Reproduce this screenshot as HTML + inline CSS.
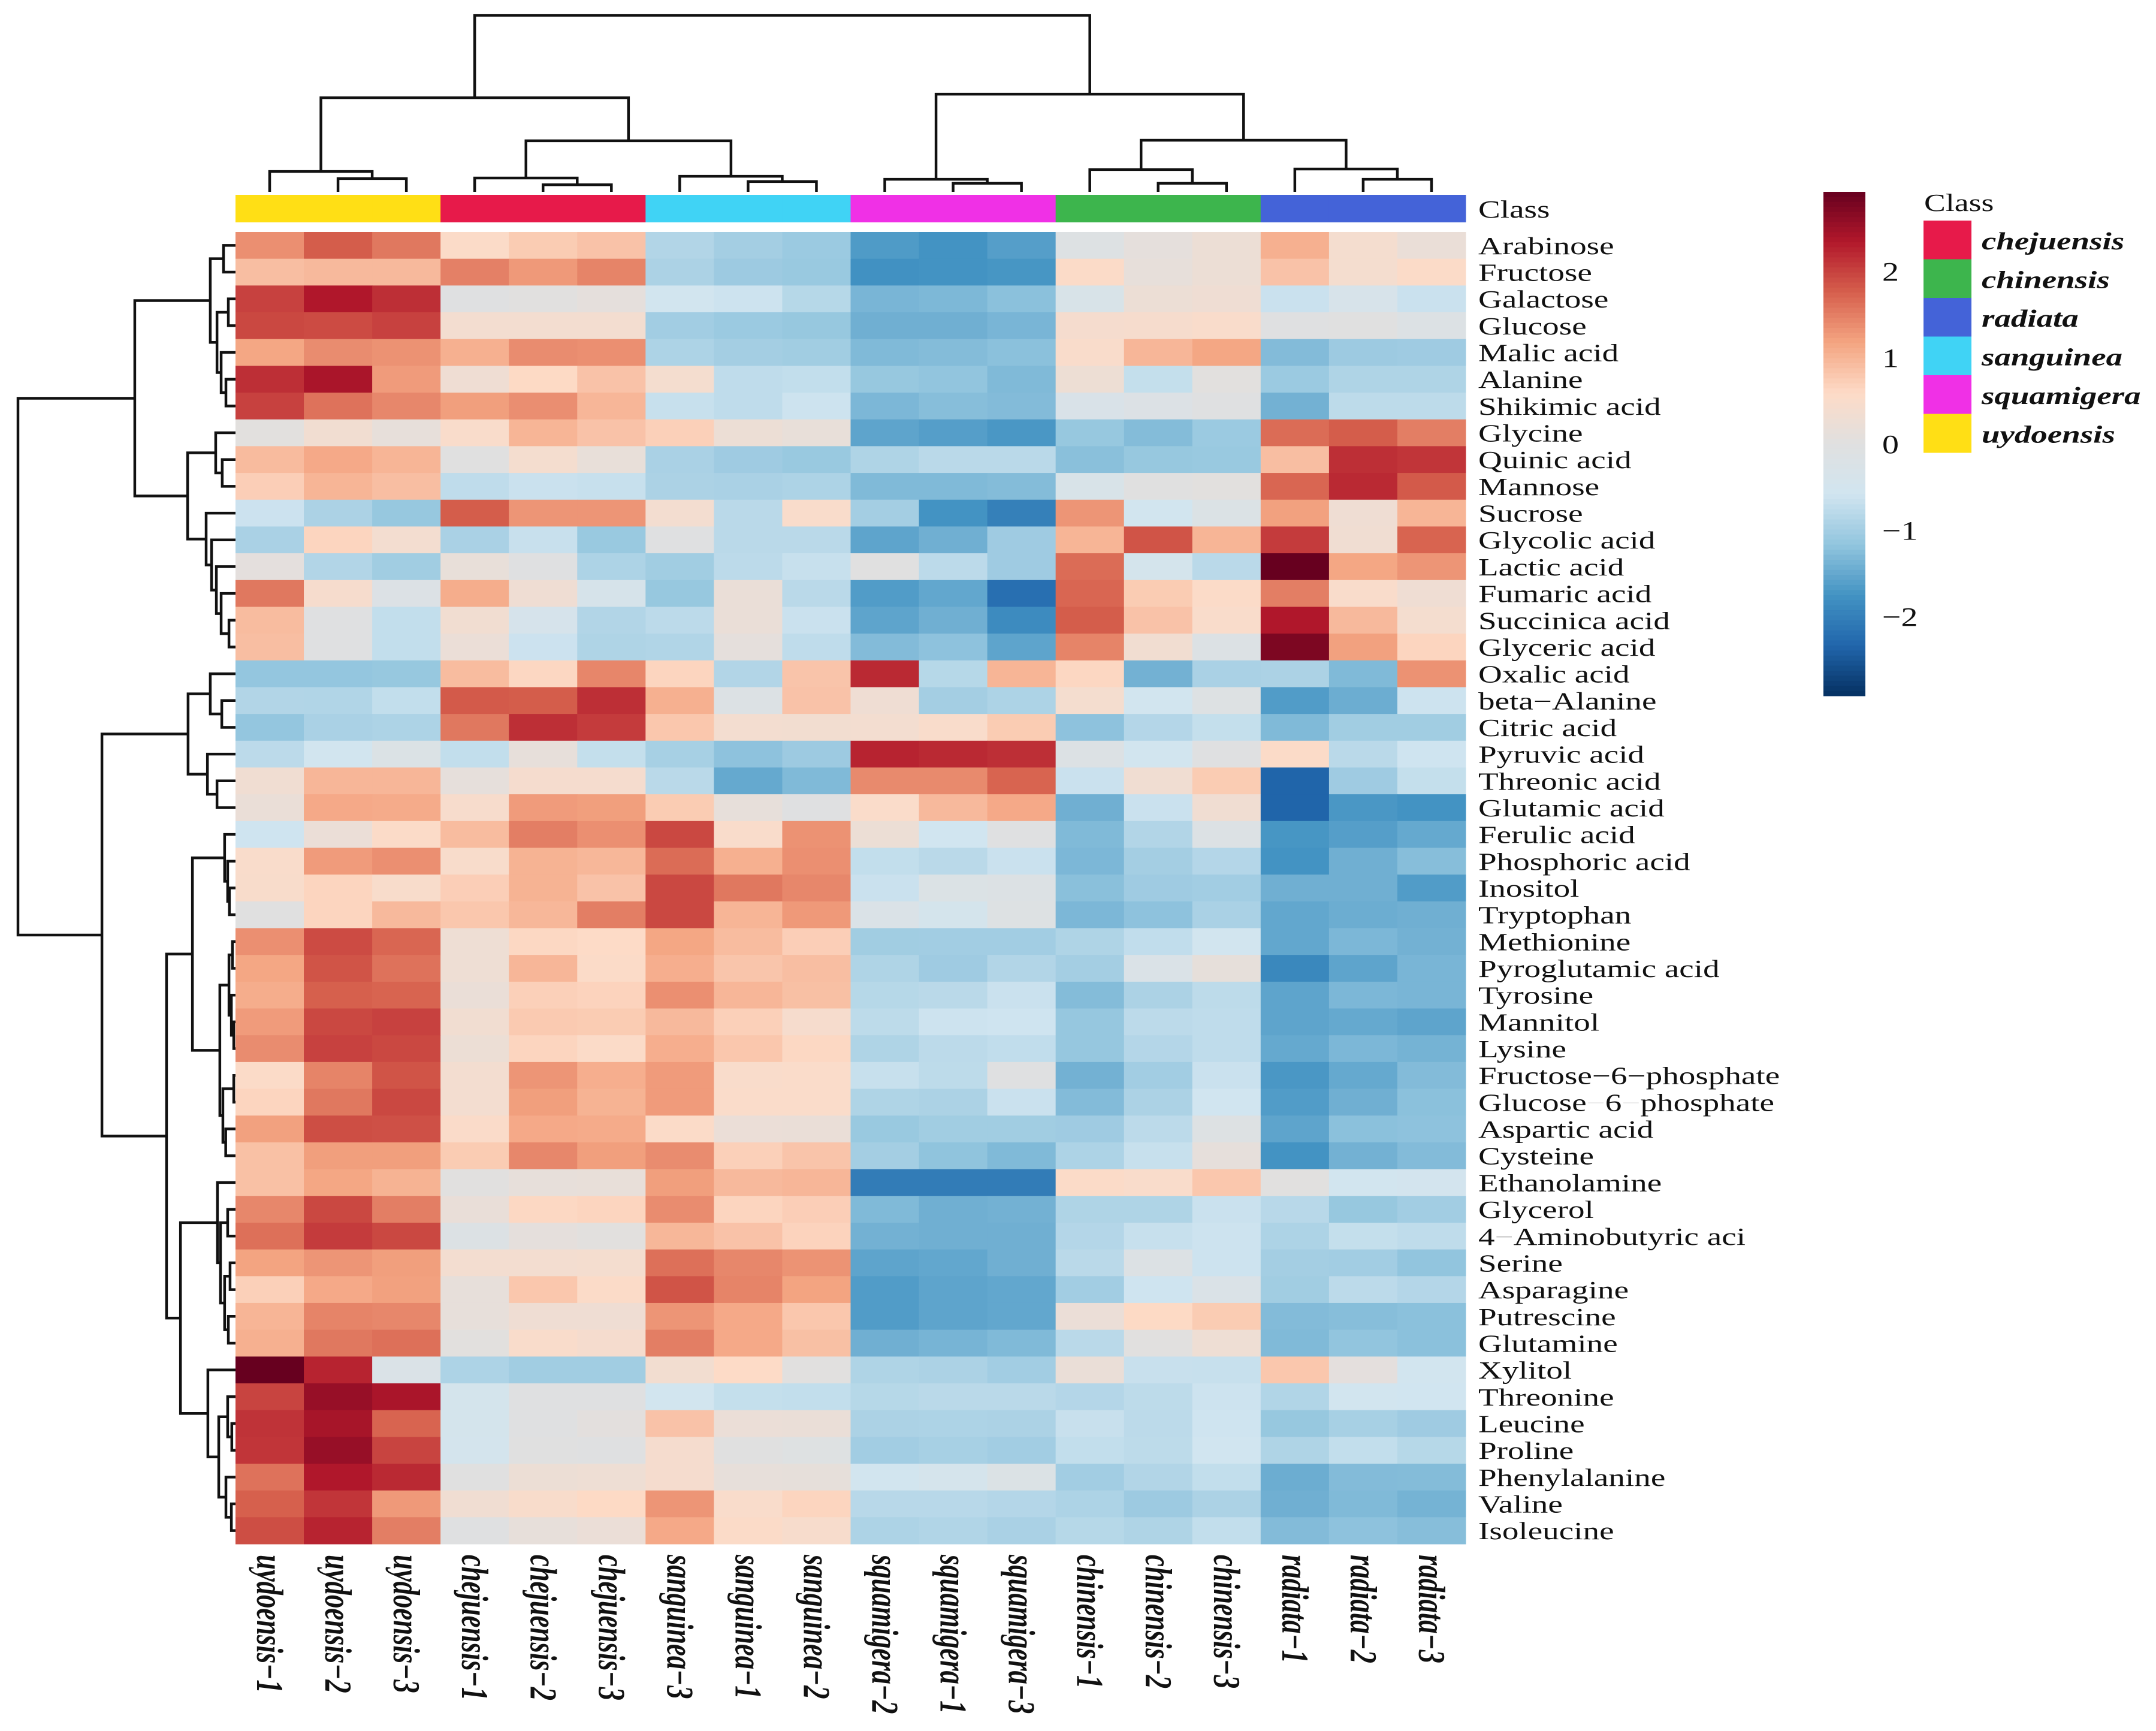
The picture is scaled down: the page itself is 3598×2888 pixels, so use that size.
<!DOCTYPE html>
<html lang="en">
<head>
<meta charset="utf-8">
<title>Metabolite clustered heatmap</title>
<style>
html,body{margin:0;padding:0;background:#fff;}
svg{display:block;}
text{font-family:"Liberation Serif",serif;fill:#111;}
</style>
</head>
<body>
<svg id="chart" xmlns="http://www.w3.org/2000/svg" width="3598" height="2888" viewBox="0 0 3598 2888">
<rect x="0" y="0" width="3598" height="2888" fill="#ffffff"/>
</svg>
<script>
const samples = ["uydoensis−1","uydoensis−2","uydoensis−3","chejuensis−1","chejuensis−2","chejuensis−3","sanguinea−3","sanguinea−1","sanguinea−2","squamigera−2","squamigera−1","squamigera−3","chinensis−1","chinensis−2","chinensis−3","radiata−1","radiata−2","radiata−3"];
const metabolites = ["Arabinose","Fructose","Galactose","Glucose","Malic acid","Alanine","Shikimic acid","Glycine","Quinic acid","Mannose","Sucrose","Glycolic acid","Lactic acid","Fumaric acid","Succinica acid","Glyceric acid","Oxalic acid","beta−Alanine","Citric acid","Pyruvic acid","Threonic acid","Glutamic acid","Ferulic acid","Phosphoric acid","Inositol","Tryptophan","Methionine","Pyroglutamic acid","Tyrosine","Mannitol","Lysine","Fructose−6−phosphate","Glucose−6−phosphate","Aspartic acid","Cysteine","Ethanolamine","Glycerol","4−Aminobutyric aci","Serine","Asparagine","Putrescine","Glutamine","Xylitol","Threonine","Leucine","Proline","Phenylalanine","Valine","Isoleucine"];
const values = [
[1.35,1.78,1.55,.55,.75,.85,-.87,-1,-1.08,-1.66,-1.75,-1.62,-.12,.1,.25,1.05,.4,.2],
[.9,.95,.95,1.48,1.27,1.45,-.93,-1.07,-1.1,-1.78,-1.75,-1.72,.55,.15,.25,.85,.4,.55],
[2,2.35,2.15,-.05,.03,.1,-.55,-.62,-.83,-1.35,-1.32,-1.22,-.3,.25,.3,-.65,-.35,-.65],
[1.95,1.92,2,.38,.38,.38,-1.02,-1.08,-1.12,-1.42,-1.42,-1.35,.42,.45,.5,-.03,0,-.15],
[1.15,1.38,1.33,1.05,1.38,1.35,-.92,-1,-1.03,-1.3,-1.27,-1.22,.5,.98,1.15,-1.28,-1.07,-1.05],
[2.15,2.4,1.25,.3,.6,.85,.4,-.75,-.72,-1.12,-1.17,-1.3,.27,-.7,.05,-1.08,-.9,-.9],
[2,1.6,1.42,1.22,1.36,.98,-.68,-.75,-.62,-1.33,-1.25,-1.28,-.28,-.17,-.05,-1.4,-.77,-.77],
[.05,.35,.15,.5,1,.85,.7,.25,.17,-1.55,-1.62,-1.7,-1.12,-1.27,-1.08,1.65,1.78,1.5],
[.93,1.12,1,0,.4,.17,-.95,-1.05,-1.1,-.9,-.8,-.8,-1.23,-1.12,-1.1,.9,2.15,2.1],
[.72,1,.9,-.75,-.65,-.68,-.93,-.95,-.92,-1.3,-1.3,-1.27,-.3,0,.05,1.7,2.2,1.8],
[-.63,-.93,-1.12,1.78,1.3,1.3,.38,-.8,.5,-1,-1.75,-2,1.3,-.55,-.2,1.2,.3,1],
[-.95,.65,.38,-.95,-.67,-1.1,-.05,-.8,-.8,-1.55,-1.42,-1.05,1,1.85,1,2.05,.33,1.72],
[.08,-.87,-1.03,.17,-.03,-.92,-1.03,-.78,-.68,0,-.78,-1.05,1.65,-.45,-.8,2.92,1.15,1.3],
[1.55,.45,-.17,1.08,.3,-.38,-1.12,.2,-.8,-1.65,-1.52,-2.22,1.7,.75,.55,1.5,.5,.3],
[.92,-.03,-.72,.35,-.4,-.87,-.78,.2,-.65,-1.55,-1.42,-1.85,1.78,.85,.5,2.35,.95,.4],
[.9,-.03,-.72,.22,-.63,-.9,-.88,.1,-.75,-1.28,-1.2,-1.55,1.45,.35,-.15,2.75,1.2,.65],
[-1.15,-1.15,-1.12,.92,.63,1.43,.65,-.87,.83,2.2,-.83,1,.63,-1.4,-.95,-.93,-1.3,1.33],
[-.87,-.88,-.72,1.8,1.78,2.15,1.05,-.15,.85,.3,-1,-.92,.4,-.55,-.1,-1.65,-1.45,-.62],
[-1.15,-.95,-.92,1.55,2.15,2.05,.8,.38,.37,.38,.5,.75,-1.2,-.85,-.7,-1.3,-1.03,-1.03],
[-.78,-.55,-.2,-.72,.15,-.7,-.97,-1.2,-1.07,2.25,2.2,2.15,-.15,-.55,-.05,.55,-.8,-.6],
[.33,.98,.98,.12,.42,.42,-.8,-1.5,-1.3,1.4,1.4,1.72,-.65,.32,.75,-2.35,-1.05,-.7],
[.2,1.12,1.1,.47,1.25,1.22,.75,.15,-.03,.52,.95,1.12,-1.42,-.65,.32,-2.35,-1.7,-1.75],
[-.6,.22,.55,.92,1.5,1.35,1.95,.5,1.33,.25,-.58,-.05,-1.3,-.87,-.15,-1.72,-1.62,-1.5],
[.5,1.25,1.35,.48,1.02,.97,1.65,1.05,1.35,-.72,-.8,-.65,-1.33,-1,-.85,-1.75,-1.42,-1.25],
[.48,.65,.48,.72,1.02,.85,1.95,1.55,1.42,-.65,-.2,-.15,-1.23,-1.05,-1.02,-1.42,-1.42,-1.65],
[0,.65,.95,.8,.97,1.5,1.95,1,1.27,-.25,-.45,-.1,-1.33,-1.2,-.95,-1.52,-1.45,-1.42],
[1.35,1.92,1.7,.28,.62,.58,1.15,.92,.72,-1.03,-1.02,-1.02,-.9,-.73,-.55,-1.52,-1.33,-1.4],
[1.15,1.85,1.6,.28,.98,.55,1.07,.82,.9,-.9,-1.05,-.87,-1,-.25,.13,-1.9,-1.55,-1.35],
[1.08,1.75,1.72,.2,.7,.67,1.35,.98,.88,-.83,-.8,-.65,-1.27,-.93,-.77,-1.55,-1.33,-1.35],
[1.25,1.95,2,.35,.77,.75,.95,.7,.45,-.77,-.62,-.6,-1.13,-.78,-.75,-1.55,-1.5,-1.55],
[1.38,2,1.95,.25,.65,.55,1.07,.8,.62,-.9,-.78,-.73,-1.13,-.85,-.75,-1.5,-1.33,-1.38],
[.55,1.45,1.85,.38,1.3,1.07,1.25,.5,.52,-.68,-.77,-.02,-1.4,-1.02,-.65,-1.7,-1.5,-1.28],
[.65,1.55,1.95,.38,1.22,1.02,1.25,.52,.52,-.9,-.93,-.65,-1.28,-.93,-.58,-1.65,-1.42,-1.22],
[1.2,1.9,1.88,.53,1.12,1.1,.55,.22,.2,-1.1,-1.03,-1.03,-1.05,-.78,-.12,-1.55,-1.22,-1.2],
[.87,1.22,1.22,.75,1.42,1.22,1.38,.7,.83,-1,-1.18,-1.3,-.92,-.68,.12,-1.75,-1.4,-1.28],
[.87,1.15,1.02,.03,.15,.17,1.22,.95,.98,-2.05,-2.05,-2.05,.55,.5,.8,.03,-.55,-.52],
[1.42,1.95,1.5,.18,.62,.65,1.38,.65,.72,-1.3,-1.42,-1.4,-.9,-.9,-.65,-.82,-1.12,-1.02],
[1.62,2.05,1.95,-.15,.1,.05,.97,.85,.67,-1.4,-1.42,-1.42,-.85,-.68,-.62,-.92,-.7,-.75],
[1.18,1.3,1.22,.38,.38,.4,1.62,1.42,1.32,-1.55,-1.52,-1.42,-.8,-.15,-.62,-1,-1.02,-1.17],
[.7,1.12,1.2,.15,.8,.55,1.85,1.45,1.18,-1.65,-1.55,-1.52,-1.02,-.6,-.25,-1.03,-.78,-.85],
[1,1.45,1.42,.15,.3,.3,1.3,1.12,.8,-1.65,-1.55,-1.52,.22,.6,.75,-1.28,-1.25,-1.22],
[1.05,1.55,1.62,.05,.5,.42,1.5,1.12,.88,-1.42,-1.37,-1.3,-.8,.02,.28,-1.3,-1.17,-1.22],
[2.92,2.25,-.25,-.92,-1.03,-1.03,.37,.58,.02,-.9,-.93,-1.02,.2,-.67,-.68,.8,.08,-.55],
[1.98,2.55,2.4,-.45,-.03,-.03,-.55,-.7,-.72,-.83,-.8,-.8,-.85,-.77,-.62,-.88,-.55,-.58],
[2.12,2.42,1.72,-.45,-.03,.07,.85,.22,.2,-.93,-.92,-.93,-.67,-.78,-.6,-1.12,-.97,-1.05],
[2.1,2.55,1.98,-.47,0,-.05,.42,0,-.07,-1.02,-.97,-1.02,-.72,-.77,-.58,-.9,-.72,-.83],
[1.6,2.35,2.2,0,.25,.28,.42,.15,.13,-.55,-.42,-.18,-1.02,-.87,-.72,-1.45,-1.28,-1.27],
[1.75,2.1,1.27,.32,.48,.6,1.3,.5,.65,-.82,-.82,-.85,-.92,-1.07,-.93,-1.42,-1.3,-1.38],
[1.9,2.25,1.5,-.03,.15,.22,1.12,.55,.47,-.92,-.88,-.95,-.83,-.9,-.72,-1.28,-1.2,-1.25]
];
const classNames = ["chejuensis","chinensis","radiata","sanguinea","squamigera","uydoensis"];
const classColors = ["#e71a4a","#3db54d","#4463d8","#40d3f5","#f030e6","#ffdf15"];
const colorbarTicks = [2,1,0,-1,-2];
const colorLimit = 2.92;
const paletteStops = ["#053061","#2166ac","#4393c3","#92c5de","#d1e5f0","#e0e0e0","#fddbc7","#f4a582","#d6604d","#b2182b","#67001f"];
/* Dendrograms: each merge is [height 0-100, left child, right child]; integers are leaf indices. */
const columnTree = [100,[53.3,[11.5,0,[7.5,1,2]],[28.9,[7.8,3,[4,4,5]],[8.8,6,[5.8,7,8]]]],[55.3,[7.1,9,[4.8,10,11]],[29.2,[12.6,12,[4.8,13,14]],[12.9,15,[7.1,16,17]]]]];
const rowTreeA = [46.3,[11.6,[5.5,0,1],[8.5,[3.3,2,3],[6.6,4,[4.4,5,6]]]],[22,[9.1,7,[6.1,8,9]],[13.5,10,[11,11,[8.8,12,[6.6,13,[3,14,15]]]]]]];
const rowTreeB1 = [21.8,[11.6,16,[6.3,17,18]],[12.9,19,[8.5,20,21]]];
const rowTreeB2 = [19.8,[5,22,[3.6,23,[2.8,24,25]]],[7.2,[3,[1.4,26,27],[1.9,28,[.8,29,30]]],[5.8,[.8,31,32],[4.5,33,34]]]];
const rowTreeB3 = [25.3,[8.3,35,[6.9,[3.6,36,37],[5,[2.5,38,39],[3.3,40,41]]]],[12.7,42,[7.7,[3.6,43,[1.7,44,45]],[4.4,46,[1.9,47,48]]]]];
const rowTree = [100,rowTreeA,[61.4,rowTreeB1,[31.7,rowTreeB2,rowTreeB3]]];

const NS = "http://www.w3.org/2000/svg";
const svg = document.getElementById("chart");
const plotLeft = 393, plotRight = 2446, plotTop = 387, plotBottom = 2576;
const columnWidth = (plotRight - plotLeft) / samples.length;
const rowHeight = (plotBottom - plotTop) / metabolites.length;
const xCenter = i => plotLeft + columnWidth * (i + 0.5);
const yCenter = i => plotTop + rowHeight * (i + 0.5);
const topDendroY = h => 320 - h * 2.945;
const leftDendroX = h => 393 - h * 3.63;
const barTop = 320, barBottom = 1161, barZero = 741, barUnit = 144;
const barY = v => barZero - v * barUnit;

function hexToRgb(h) {
  return [parseInt(h.slice(1,3),16), parseInt(h.slice(3,5),16), parseInt(h.slice(5,7),16)];
}
function colorFor(v) {
  const t = Math.max(0, Math.min(1, (v + colorLimit) / (2 * colorLimit))) * (paletteStops.length - 1);
  const i = Math.min(paletteStops.length - 2, Math.floor(t));
  const f = t - i;
  const a = hexToRgb(paletteStops[i]), b = hexToRgb(paletteStops[i + 1]);
  return "rgb(" + a.map((c, k) => Math.round(c + (b[k] - c) * f)).join(",") + ")";
}
function make(tag, attrs, parent) {
  const el = document.createElementNS(NS, tag);
  for (const k in attrs) el.setAttribute(k, attrs[k]);
  (parent || svg).appendChild(el);
  return el;
}
function stretchedText(parent, str, x, y, size, sx, weight, style) {
  const t = make("text", {transform: "translate(" + x + "," + y + ") scale(" + sx + ",1)", "font-size": size, "font-weight": weight || "normal", "font-style": style || "normal"}, parent);
  t.textContent = str;
  return t;
}

/* annotation bar */
const annotationGroup = make("g", {});


samples.forEach((s, i) => {
  const cls = classNames.indexOf(s.split("−")[0]);
  const r = make("rect", {x: plotLeft + columnWidth * i, y: 325, width: columnWidth + 0.5, height: 46, fill: classColors[cls]}, annotationGroup);
  
  
});
const annotationLabel = stretchedText(svg, "Class", 2467, 363, 41, 1.345);



/* heatmap cells */
const cellGroup = make("g", {});


values.forEach((row, r) => row.forEach((v, c) => {
  const cell = make("rect", {x: plotLeft + columnWidth * c, y: plotTop + rowHeight * r, width: columnWidth + 0.5, height: rowHeight + 0.5, fill: colorFor(v)}, cellGroup);
  
  
}));

/* row labels */
const rowLabelGroup = make("g", {});


const faintMinus = {32: "#ececec", 37: "#c4c4c4"};
metabolites.forEach((m, i) => {
  const t = stretchedText(rowLabelGroup, "", 2467, yCenter(i) + 14.5, 41, 1.345);
  
  
  m.split("−").forEach((part, k) => {
    if (k > 0) {
      const dash = make("tspan", faintMinus[i] ? {fill: faintMinus[i]} : {}, t);
      dash.textContent = "−";
    }
    t.appendChild(document.createTextNode(part));
  });
});

/* column labels */
const columnLabelGroup = make("g", {});


samples.forEach((s, i) => {
  const t = make("text", {transform: "translate(" + (xCenter(i) - 21) + ",2594) rotate(90) scale(1,1.42)", "font-size": 44.7, "font-weight": "bold", "font-style": "italic"}, columnLabelGroup);
  
  
  t.textContent = s;
});

/* dendrograms */
function drawTree(node, group, leafPos, heightPos, vertical) {
  if (typeof node === "number") return {pos: leafPos(node), h: null};
  const a = drawTree(node[1], group, leafPos, heightPos, vertical);
  const b = drawTree(node[2], group, leafPos, heightPos, vertical);
  const h = heightPos(node[0]);
  const aEnd = a.h === null ? heightPos(0) : a.h;
  const bEnd = b.h === null ? heightPos(0) : b.h;
  const d = vertical
    ? "M" + a.pos + " " + aEnd + "V" + h + "H" + b.pos + "V" + bEnd
    : "M" + aEnd + " " + a.pos + "H" + h + "V" + b.pos + "H" + bEnd;
  const p = make("path", {d: d, fill: "none", stroke: "#111", "stroke-width": 4.5, "stroke-linejoin": "miter"}, group);
  
  
  return {pos: (a.pos + b.pos) / 2, h: h};
}
const columnDendrogram = make("g", {});


drawTree(columnTree, columnDendrogram, xCenter, topDendroY, true);
const rowDendrogram = make("g", {});


drawTree(rowTree, rowDendrogram, yCenter, leftDendroX, false);

/* colour bar */
const colorbarGroup = make("g", {});


const colorbarSteps = 100;
for (let i = 0; i < colorbarSteps; i++) {
  const v = colorLimit - (i + 0.5) * (2 * colorLimit) / colorbarSteps;
  const stepHeight = (barBottom - barTop) / colorbarSteps;
  const r = make("rect", {x: 3043, y: barTop + i * stepHeight, width: 70, height: stepHeight + 0.5, fill: colorFor(v)}, colorbarGroup);
  
  
}
colorbarTicks.forEach(v => {
  const t = stretchedText(colorbarGroup, v < 0 ? "−" + Math.abs(v) : String(v), 3141, barY(v) + 15, 44, 1.27);
  
  
});

/* legend */
const legendGroup = make("g", {});


const legendTitle = stretchedText(legendGroup, "Class", 3211, 352, 41, 1.31);


classNames.forEach((name, i) => {
  const swatch = make("rect", {x: 3210, y: 368 + i * 64.5, width: 80, height: 65, fill: classColors[i]}, legendGroup);
  
  
  const t = stretchedText(legendGroup, name, 3307, 416 + i * 64.5, 41, 1.34, "bold", "italic");
  
  
});
</script>
</body>
</html>
